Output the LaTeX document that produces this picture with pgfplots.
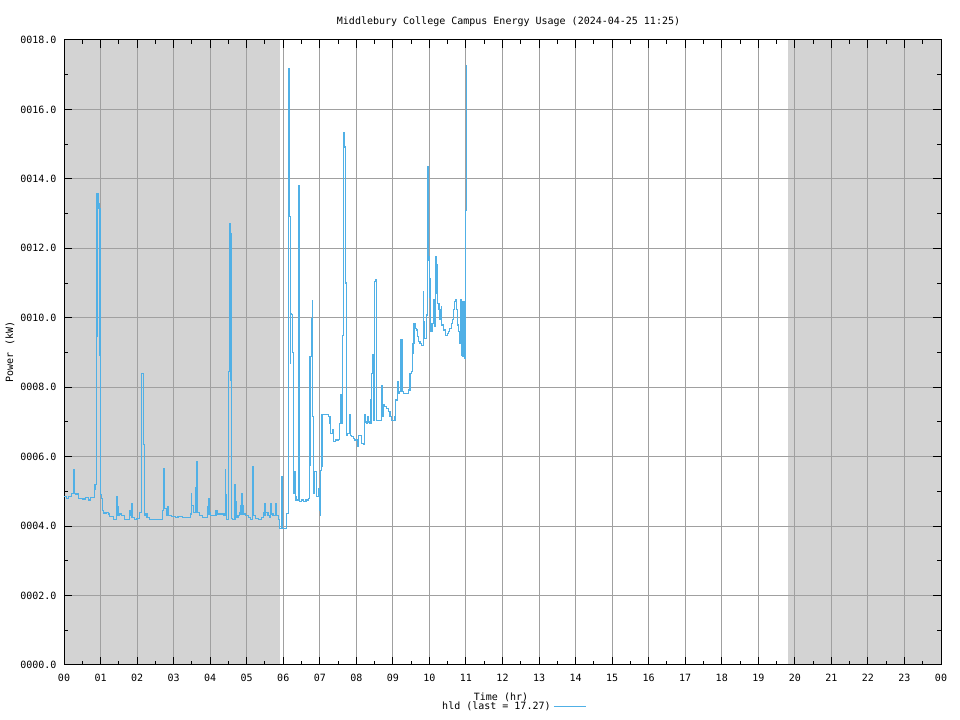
\documentclass[border=0pt]{standalone}
\usepackage{fontspec}
\setmainfont{DejaVu Sans Mono}
\usepackage{pgfplots}
\pgfplotsset{compat=1.18}
\definecolor{linec}{RGB}{80,176,230}
\definecolor{gridc}{RGB}{160,160,160}
\definecolor{shadec}{RGB}{211,211,211}
\begin{document}
\fontsize{7.5}{9}\selectfont
\begin{tikzpicture}[x=1pt,y=1pt]
\begin{axis}[
  set layers,
  at={(48pt,41.25pt)}, anchor=south west,
  scale only axis, width=657.75pt, height=468.75pt,
  xmin=0, xmax=24, ymin=0, ymax=18,
  xtick={0,1,...,24},
  xticklabels={00,01,02,03,04,05,06,07,08,09,10,11,12,13,14,15,16,17,18,19,20,21,22,23,00},
  ytick={0,2,...,18},
  yticklabels={0000.0,0002.0,0004.0,0006.0,0008.0,0010.0,0012.0,0014.0,0016.0,0018.0},
  minor x tick num=1, minor y tick num=1,
  tick align=inside, major tick length=6pt, minor tick length=3pt,
  tick style={black, line width=0.75pt},
  grid=major, major grid style={gridc, line width=0.75pt},
  axis line style={black, line width=0.75pt},
  ticklabel style={font=\fontsize{7.5}{9}\selectfont},
  xticklabel style={yshift=-4pt},
  yticklabel style={xshift=-3pt},
  legend style={at={(0.512,-0.067)}, anchor=center, draw=none, fill=none,
    font=\fontsize{7.5}{9}\selectfont, inner sep=0pt},
  legend plot pos=right,
  legend image code/.code={\draw[linec, line width=0.9pt] (0pt,0pt) -- (24pt,0pt);},
]
\addplot[fill=shadec, draw=none, forget plot, on layer=axis background] coordinates {(0,0) (5.92,0) (5.92,18) (0,18)} -- cycle;
\addplot[fill=shadec, draw=none, forget plot, on layer=axis background] coordinates {(19.81,0) (24,0) (24,18) (19.81,18)} -- cycle;
\addplot[const plot, linec, line width=0.9pt] coordinates {
(0.00,4.85) (0.06,4.80) (0.12,4.85) (0.20,4.95) (0.25,5.00) (0.27,5.64) (0.29,4.95) (0.33,4.90)
(0.36,4.95) (0.40,4.80) (0.50,4.78) (0.58,4.82) (0.66,4.75) (0.72,4.82) (0.82,4.82) (0.83,5.20)
(0.85,5.05) (0.87,5.20) (0.88,9.46) (0.905,13.57) (0.935,13.28) (0.96,13.15) (0.985,8.93) (1.00,4.90)
(1.03,4.80) (1.06,4.45) (1.09,4.38) (1.15,4.40) (1.22,4.35) (1.25,4.28) (1.32,4.28) (1.36,4.18)
(1.42,4.18) (1.44,4.85) (1.46,4.55) (1.48,4.30) (1.52,4.35) (1.58,4.30) (1.62,4.30) (1.66,4.18)
(1.78,4.18) (1.80,4.45) (1.82,4.30) (1.84,4.64) (1.86,4.25) (1.92,4.20) (2.00,4.22) (2.07,4.40)
(2.11,8.40) (2.17,6.34) (2.20,4.30) (2.23,4.35) (2.27,4.25) (2.35,4.20) (2.45,4.18) (2.55,4.20)
(2.65,4.18) (2.70,4.45) (2.72,5.66) (2.74,4.66) (2.76,4.50) (2.80,4.30) (2.84,4.55) (2.86,4.30)
(2.95,4.28) (3.05,4.25) (3.12,4.28) (3.25,4.25) (3.40,4.25) (3.46,4.35) (3.48,4.94) (3.50,4.60)
(3.55,4.40) (3.59,5.12) (3.62,5.86) (3.64,4.40) (3.70,4.30) (3.78,4.25) (3.90,4.25) (3.93,4.56)
(3.95,4.35) (3.97,4.80) (3.99,4.40) (4.02,4.30) (4.10,4.30) (4.16,4.45) (4.20,4.35) (4.30,4.35)
(4.38,4.30) (4.41,5.64) (4.43,4.90) (4.45,4.20) (4.50,4.18) (4.51,8.45) (4.525,12.70) (4.545,12.43)
(4.57,8.21) (4.59,4.22) (4.62,4.20) (4.68,5.20) (4.70,4.70) (4.72,4.25) (4.76,4.30) (4.80,4.40)
(4.82,4.60) (4.84,4.35) (4.86,4.94) (4.88,4.60) (4.90,4.35) (4.96,4.30) (5.05,4.25) (5.10,4.20)
(5.15,5.70) (5.17,4.94) (5.19,4.30) (5.25,4.22) (5.32,4.20) (5.40,4.25) (5.45,4.40) (5.48,4.30)
(5.50,4.64) (5.52,4.40) (5.58,4.30) (5.62,4.25) (5.65,4.66) (5.67,4.35) (5.72,4.30) (5.78,4.40)
(5.80,4.66) (5.82,4.30) (5.86,4.20) (5.89,3.94) (5.95,5.43) (5.97,3.94) (6.09,4.36) (6.14,17.19)
(6.16,12.91) (6.19,8.69) (6.20,10.13) (6.23,10.10) (6.25,9.00) (6.27,6.96) (6.29,4.94) (6.31,5.57)
(6.33,4.85) (6.35,4.75) (6.41,13.82) (6.43,9.26) (6.45,4.70) (6.50,4.75) (6.55,4.70) (6.62,4.75)
(6.69,4.80) (6.71,5.76) (6.73,8.88) (6.77,9.98) (6.79,10.49) (6.81,7.15) (6.83,4.94) (6.86,5.57)
(6.90,4.85) (6.96,5.09) (6.99,4.46) (7.01,4.31) (7.02,5.61) (7.04,5.71) (7.06,7.22) (7.23,7.15)
(7.28,6.96) (7.30,6.67) (7.34,6.77) (7.37,6.43) (7.42,6.48) (7.51,6.50) (7.53,6.96) (7.57,7.78)
(7.60,6.96) (7.62,9.50) (7.64,15.34) (7.66,15.26) (7.68,14.92) (7.70,11.00) (7.72,6.62) (7.76,6.67)
(7.81,7.20) (7.83,6.62) (7.87,6.57) (7.92,6.52) (7.96,6.48) (8.00,6.48) (8.04,6.29) (8.06,6.62)
(8.10,6.62) (8.15,6.38) (8.19,6.34) (8.22,7.20) (8.25,7.00) (8.28,6.96) (8.31,7.15) (8.34,7.00)
(8.37,6.96) (8.40,7.63) (8.42,8.40) (8.44,8.93) (8.46,7.05) (8.49,11.04) (8.53,11.09) (8.55,7.05)
(8.60,7.05) (8.65,7.05) (8.69,8.06) (8.71,7.15) (8.74,7.49) (8.78,7.44) (8.83,7.39) (8.88,7.30)
(8.92,7.15) (8.97,7.05) (9.00,7.05) (9.06,7.15) (9.08,7.63) (9.12,8.16) (9.15,7.82) (9.19,7.87)
(9.22,9.36) (9.25,7.87) (9.30,7.82) (9.38,7.82) (9.42,7.92) (9.47,8.40) (9.50,8.45) (9.53,8.97)
(9.55,9.26) (9.58,9.84) (9.61,9.69) (9.65,9.65) (9.68,9.46) (9.71,9.31) (9.74,9.26) (9.79,9.21)
(9.83,10.75) (9.845,9.90) (9.86,9.40) (9.91,9.45) (9.93,10.08) (9.94,11.66) (9.96,14.35) (9.98,11.75)
(10.00,11.18) (10.01,10.60) (10.02,11.13) (10.04,9.60) (10.07,9.84) (10.11,10.51) (10.13,9.84) (10.15,9.74)
(10.17,11.75) (10.19,11.52) (10.21,10.70) (10.23,10.42) (10.26,10.23) (10.29,9.94) (10.32,10.32) (10.34,9.79)
(10.38,9.65) (10.43,9.60) (10.45,9.48) (10.49,9.55) (10.52,9.60) (10.56,9.70) (10.61,9.84) (10.63,9.94)
(10.66,10.23) (10.69,10.47) (10.72,10.51) (10.75,10.23) (10.77,9.79) (10.80,9.60) (10.83,9.26) (10.85,10.51)
(10.87,8.93) (10.89,10.47) (10.92,8.88) (10.94,10.47) (10.97,8.83) (10.98,13.10) (11.01,17.27)
};
\addlegendentry{hld (last = 17.27)}
\end{axis}
\node at (381.4,524) {Middlebury College Campus Energy Usage (2024-04-25 11:25)};
\node[rotate=90] at (7.5,276) {Power (kW)};
\node at (375.75,17.25) {Time (hr)};
\pgfresetboundingbox
\path[use as bounding box] (0,0) rectangle (720,540);
\end{tikzpicture}
\end{document}
